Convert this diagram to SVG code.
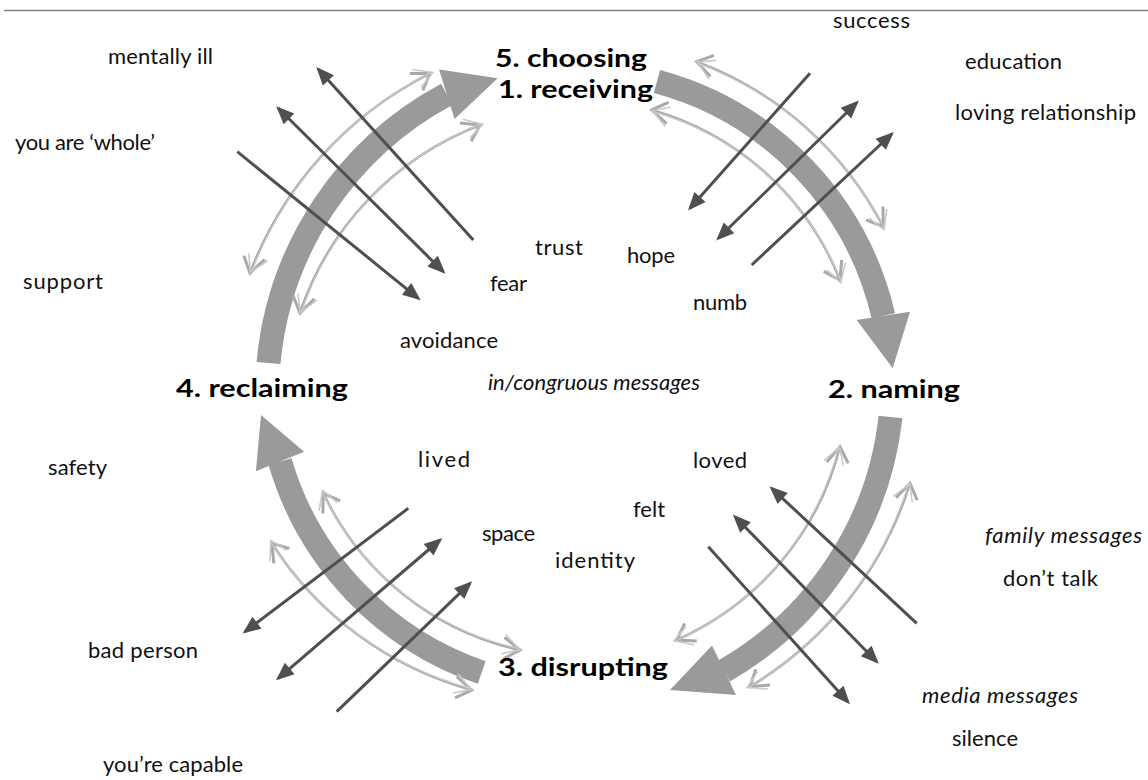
<svg xmlns="http://www.w3.org/2000/svg" xmlns:xlink="http://www.w3.org/1999/xlink" width="1148" height="780" viewBox="0 0 1148 780">
<style>
text{font-family:Lato,"Open Sans","Liberation Sans",sans-serif;font-size:22px;fill:#111}
.b{font-weight:bold;font-size:25px;fill:#000}
.i{font-style:italic}
.big{fill:none;stroke:#9a9a9a;stroke-width:24}
.head{fill:#9a9a9a}
.thin{fill:none;stroke:#a9a9a9;stroke-width:2.6;marker-start:url(#chev);marker-end:url(#chev)}
.thin2{fill:none;stroke:#c9c9c9;stroke-width:1.4;marker-start:url(#chev2);marker-end:url(#chev2)}
.dk{fill:none;stroke:#4f4f4f;stroke-width:3}
.e{marker-end:url(#ah)}
.s{marker-start:url(#ah)}
</style>
<defs>
<marker id="chev" markerUnits="userSpaceOnUse" orient="auto-start-reverse" overflow="visible" markerWidth="40" markerHeight="40" refX="0" refY="0">
<path d="M-18,-9 L0,0 L-14,12" fill="none" stroke="#a9a9a9" stroke-width="3"/>
</marker>
<marker id="chev2" markerUnits="userSpaceOnUse" orient="auto-start-reverse" overflow="visible" markerWidth="40" markerHeight="40" refX="0" refY="0">
<path d="M-16,-11 L1,1 L-16,9" fill="none" stroke="#c9c9c9" stroke-width="1.6"/>
</marker>
<marker id="ah" markerUnits="userSpaceOnUse" orient="auto-start-reverse" overflow="visible" markerWidth="40" markerHeight="40" refX="0" refY="0">
<path d="M3,0 L-15,-7.5 L-15,7.5 Z" fill="#4f4f4f"/>
</marker>
<path id="t1" d="M250,273 A372,372 0 0 1 430,73.3"/>
<path id="t2" d="M300,313 A306,306 0 0 1 480,125"/>
<path id="t3" d="M696.7,61.7 A348,348 0 0 1 883.3,226.7"/>
<path id="t4" d="M651.7,110 A287,287 0 0 1 840,280"/>
<path id="t5" d="M840,446.7 A290,290 0 0 1 676.7,640"/>
<path id="t6" d="M910,483.3 A366,366 0 0 1 750,686.7"/>
<path id="t7" d="M520,650 A286,286 0 0 1 323.3,493.3"/>
<path id="t8" d="M471.7,690 A348,348 0 0 1 271.7,543.3"/>
</defs>
<rect width="1148" height="780" fill="#fff"/>
<line x1="4" y1="10.5" x2="1148" y2="10.5" stroke="#808080" stroke-width="1.5"/>

<g id="connectors">
  <g id="cycle-arrows">
    <path class="big" d="M268.5,363 A340,340 0 0 1 446.8,94.3"/>
    <polygon class="head" points="497.7,78.3 439,69.5 454.6,119.1"/>
    <path class="big" d="M657,81.5 A317,317 0 0 1 883.3,315.9"/>
    <polygon class="head" points="892.7,368.3 856.7,320 910,311.7"/>
    <path class="big" d="M890.5,417 A335,335 0 0 1 724,671"/>
    <polygon class="head" points="670,690 712,645.5 736,695"/>
    <path class="big" d="M481.7,672.5 A317,317 0 0 1 280,461.5"/>
    <polygon class="head" points="261,415 304.1,451.7 255.9,471.3"/>
  </g>
  <g id="sketch-arcs">
    <use href="#t1" class="thin"/><use href="#t1" class="thin2" transform="translate(1.5,-1.2)"/>
    <use href="#t2" class="thin"/><use href="#t2" class="thin2" transform="translate(1.5,-1.2)"/>
    <use href="#t3" class="thin"/><use href="#t3" class="thin2" transform="translate(1.2,1.5)"/>
    <use href="#t4" class="thin"/><use href="#t4" class="thin2" transform="translate(1.2,1.5)"/>
    <use href="#t5" class="thin"/><use href="#t5" class="thin2" transform="translate(-1.5,1.2)"/>
    <use href="#t6" class="thin"/><use href="#t6" class="thin2" transform="translate(-1.5,1.2)"/>
    <use href="#t7" class="thin"/><use href="#t7" class="thin2" transform="translate(-1.2,-1.5)"/>
    <use href="#t8" class="thin"/><use href="#t8" class="thin2" transform="translate(-1.2,-1.5)"/>
  </g>
  <g id="message-arrows">
    <path class="dk e" d="M473.3,240 L318.3,69.3"/>
    <path class="dk s e" d="M278.3,108.3 L443.3,271.7"/>
    <path class="dk e" d="M237.3,151.7 L418.3,298.3"/>
    <path class="dk e" d="M810,73.3 L690,208.3"/>
    <path class="dk s e" d="M856.7,102.7 L718.3,238.3"/>
    <path class="dk e" d="M751.7,265 L891.7,134"/>
    <path class="dk e" d="M916.7,623.3 L771.7,488.3"/>
    <path class="dk s e" d="M735,516.7 L876.7,661.7"/>
    <path class="dk e" d="M708.3,546.7 L848,702"/>
    <path class="dk e" d="M408.3,508.3 L245,631.7"/>
    <path class="dk s e" d="M440,540 L278.3,678.3"/>
    <path class="dk e" d="M336.7,711.7 L470,583.3"/>
  </g>
</g>

<g id="stage-choosing"><text class="b" x="495" y="67" textLength="152" lengthAdjust="spacingAndGlyphs">5. choosing</text></g>
<g id="stage-receiving"><text class="b" x="498" y="97.5" textLength="155" lengthAdjust="spacingAndGlyphs">1. receiving</text></g>
<g id="stage-naming"><text class="b" x="828" y="398" textLength="132" lengthAdjust="spacingAndGlyphs">2. naming</text></g>
<g id="stage-disrupting"><text class="b" x="498" y="676" textLength="170" lengthAdjust="spacingAndGlyphs">3. disrupting</text></g>
<g id="stage-reclaiming"><text class="b" x="176" y="396.5" textLength="172" lengthAdjust="spacingAndGlyphs">4. reclaiming</text></g>

<g id="label-success"><text x="833" y="28" textLength="77" lengthAdjust="spacing">success</text></g>
<g id="label-education"><text x="965" y="68.5" textLength="97" lengthAdjust="spacing">education</text></g>
<g id="label-loving"><text x="955" y="120" textLength="181" lengthAdjust="spacing">loving relationship</text></g>
<g id="label-mentally-ill"><text x="108" y="64" textLength="105" lengthAdjust="spacing">mentally ill</text></g>
<g id="label-whole"><text x="15" y="150" textLength="140" lengthAdjust="spacing">you are ‘whole’</text></g>
<g id="label-support"><text x="23" y="289" textLength="80" lengthAdjust="spacing">support</text></g>
<g id="label-trust"><text x="535" y="255" textLength="48" lengthAdjust="spacing">trust</text></g>
<g id="label-hope"><text x="627" y="263" textLength="48" lengthAdjust="spacing">hope</text></g>
<g id="label-fear"><text x="490" y="291" textLength="37" lengthAdjust="spacing">fear</text></g>
<g id="label-numb"><text x="693" y="310" textLength="54" lengthAdjust="spacing">numb</text></g>
<g id="label-avoidance"><text x="400" y="348" textLength="98" lengthAdjust="spacing">avoidance</text></g>
<g id="label-incongruous"><text class="i" x="488" y="390" textLength="212" lengthAdjust="spacing">in/congruous messages</text></g>
<g id="label-lived"><text x="418" y="466.5" textLength="52" lengthAdjust="spacing">lived</text></g>
<g id="label-loved"><text x="693" y="468" textLength="54" lengthAdjust="spacing">loved</text></g>
<g id="label-safety"><text x="48" y="475" textLength="59" lengthAdjust="spacing">safety</text></g>
<g id="label-felt"><text x="633" y="516.5">felt</text></g>
<g id="label-space"><text x="482" y="540.5" textLength="53" lengthAdjust="spacing">space</text></g>
<g id="label-identity"><text x="555" y="568" textLength="80" lengthAdjust="spacing">identity</text></g>
<g id="label-family"><text class="i" x="985" y="543" textLength="157" lengthAdjust="spacing">family messages</text></g>
<g id="label-dont-talk"><text x="1003" y="586" textLength="95" lengthAdjust="spacing">don’t talk</text></g>
<g id="label-bad-person"><text x="88" y="658" textLength="110" lengthAdjust="spacing">bad person</text></g>
<g id="label-media"><text class="i" x="922" y="703" textLength="156" lengthAdjust="spacing">media messages</text></g>
<g id="label-silence"><text x="952" y="746" textLength="66" lengthAdjust="spacing">silence</text></g>
<g id="label-capable"><text x="103" y="772" textLength="140" lengthAdjust="spacing">you’re capable</text></g>
</svg>
